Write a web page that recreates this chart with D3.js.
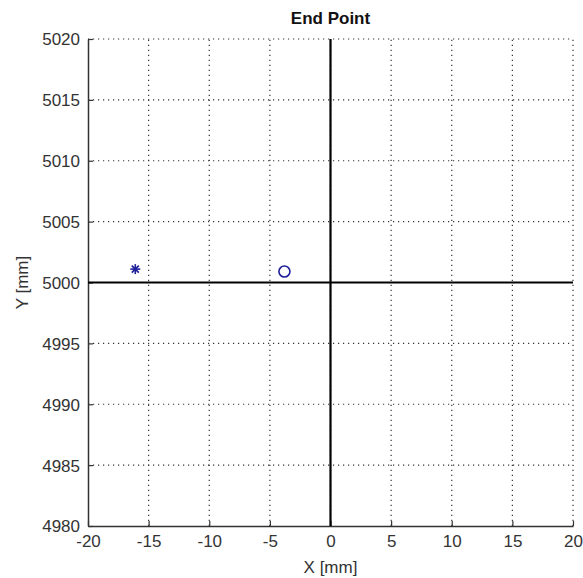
<!DOCTYPE html>
<html lang="en">
<head>
    <meta charset="UTF-8">
    <title>End Point</title>
    <style>
        body { margin: 0; padding: 0; background: #fff; overflow: hidden; }
        text { font-family: Arial, "Liberation Sans", sans-serif; }
    </style>
</head>
<body>
    <script src="https://d3js.org/d3.v7.min.js"></script>
    <script>
        // Chart data
        const xTicks = [-20, -15, -10, -5, 0, 5, 10, 15, 20];
        const yTicks = [4980, 4985, 4990, 4995, 5000, 5005, 5010, 5015, 5020];
        const starPoint = [-16.1, 5001.1];
        const circlePoint = [-3.8, 5000.9];

        const width = 583, height = 578;
        const margin = { left: 88, right: 10, top: 39, bottom: 52 };
        const fontSize = 17;

        const svg = d3.select("body").append("svg")
            .attr("width", width)
            .attr("height", height);

        const x = d3.scaleLinear().domain([-20, 20]).range([margin.left, width - margin.right]);
        const y = d3.scaleLinear().domain([4980, 5020]).range([height - margin.bottom, margin.top]);

        // Dotted grid
        svg.append("g").selectAll("line")
            .data(xTicks.slice(1))
            .enter().append("line")
            .attr("x1", d => x(d)).attr("x2", d => x(d))
            .attr("y1", y(4980)).attr("y2", y(5020))
            .attr("stroke", "#333").attr("stroke-width", 1.2)
            .attr("stroke-dasharray", "1.2,3.8");

        svg.append("g").selectAll("line")
            .data(yTicks.slice(1))
            .enter().append("line")
            .attr("y1", d => y(d)).attr("y2", d => y(d))
            .attr("x1", x(-20)).attr("x2", x(20))
            .attr("stroke", "#333").attr("stroke-width", 1.2)
            .attr("stroke-dasharray", "1.2,3.8");

        // Axes (ticks inward)
        const fmt = d3.format("d");
        const xAxis = svg.append("g")
            .attr("transform", `translate(0,${y(4980)})`)
            .call(d3.axisBottom(x).tickValues(xTicks).tickFormat(d => String(d))
                .tickSizeInner(-5).tickSizeOuter(0).tickPadding(11));
        const yAxis = svg.append("g")
            .attr("transform", `translate(${x(-20)},0)`)
            .call(d3.axisLeft(y).tickValues(yTicks).tickFormat(d => String(d))
                .tickSizeInner(-5).tickSizeOuter(0).tickPadding(8));

        [xAxis, yAxis].forEach(a => {
            a.select(".domain").attr("stroke", "#333").attr("stroke-width", 1.5);
            a.selectAll(".tick line").attr("stroke", "#333").attr("stroke-width", 1.2);
            a.selectAll(".tick text").attr("font-size", fontSize).attr("fill", "#333")
                .attr("font-family", "Arial, 'Liberation Sans', sans-serif");
        });
        xAxis.selectAll(".tick text").attr("dy", "0.6em");
        yAxis.selectAll(".tick text").attr("dy", "0.35em");

        // Zero lines
        svg.append("line")
            .attr("x1", x(0)).attr("x2", x(0))
            .attr("y1", y(4980)).attr("y2", y(5020))
            .attr("stroke", "#000").attr("stroke-width", 2.2);
        svg.append("line")
            .attr("x1", x(-20)).attr("x2", x(20))
            .attr("y1", y(5000)).attr("y2", y(5000))
            .attr("stroke", "#000").attr("stroke-width", 2.2);

        // Markers
        const markColor = "#1f1f9a";
        const sx = x(starPoint[0]), sy = y(starPoint[1]);
        const star = svg.append("g").attr("stroke", markColor).attr("stroke-width", 1.6);
        [[-5, 0, 5, 0], [0, -5, 0, 5], [-3.5, -3.5, 3.5, 3.5], [-3.5, 3.5, 3.5, -3.5]].forEach(s => {
            star.append("line")
                .attr("x1", sx + s[0]).attr("y1", sy + s[1])
                .attr("x2", sx + s[2]).attr("y2", sy + s[3]);
        });

        svg.append("circle")
            .attr("cx", x(circlePoint[0])).attr("cy", y(circlePoint[1]))
            .attr("r", 5.5)
            .attr("fill", "none")
            .attr("stroke", markColor).attr("stroke-width", 1.6);

        // Title and labels
        svg.append("text")
            .attr("x", x(0)).attr("y", 24)
            .attr("text-anchor", "middle")
            .attr("font-size", fontSize).attr("font-weight", "bold")
            .attr("fill", "#111")
            .text("End Point");

        svg.append("text")
            .attr("x", x(0)).attr("y", 573)
            .attr("text-anchor", "middle")
            .attr("font-size", fontSize).attr("fill", "#333")
            .text("X [mm]");

        svg.append("text")
            .attr("transform", `translate(28,${y(5000)}) rotate(-90)`)
            .attr("text-anchor", "middle")
            .attr("font-size", fontSize).attr("fill", "#333")
            .text("Y [mm]");
    </script>
</body>
</html>
